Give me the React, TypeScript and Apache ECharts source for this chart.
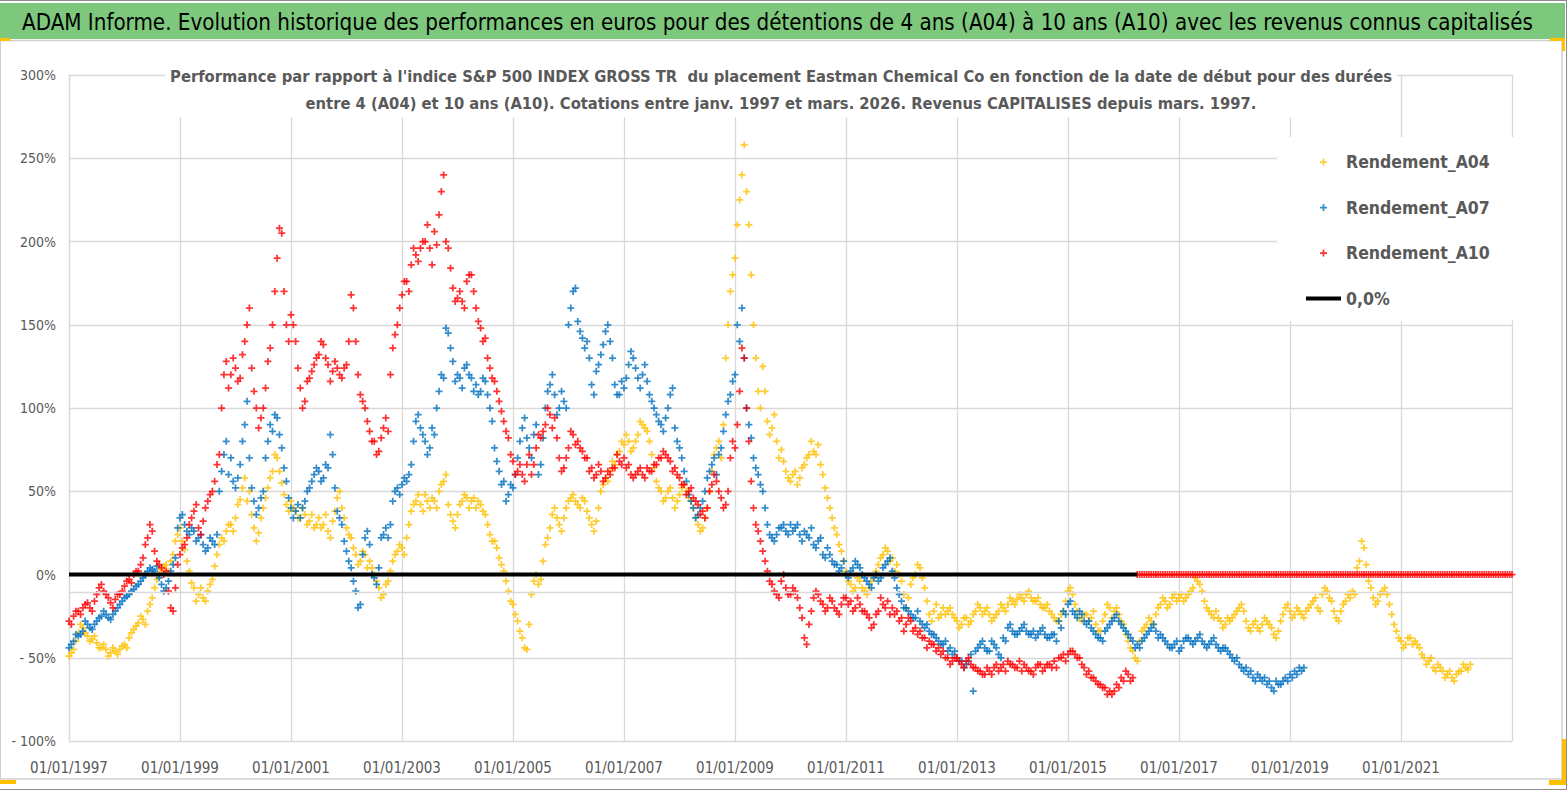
import React, { useEffect, useRef } from "react";
import * as echarts from "echarts";

const START_YEAR = 1997;
const END_YEAR = 2023;
const MONTHS_PER_YEAR = 12;
const X_TICK_YEARS = 2;
const Y_MIN = -100;
const Y_MAX = 300;
const Y_STEP = 50;
const AXIS_CROSS = -10.5;

const TITLE =
  "ADAM Informe. Evolution historique des performances en euros pour des détentions de 4 ans (A04) à 10 ans (A10) avec les revenus connus capitalisés";
const SUBTITLE_1 =
  "Performance par rapport à l'indice S&P 500 INDEX GROSS TR  du placement Eastman Chemical Co en fonction de la date de début pour des durées";
const SUBTITLE_2 =
  "entre 4 (A04) et 10 ans (A10). Cotations entre janv. 1997 et mars. 2026. Revenus CAPITALISES depuis mars. 1997.";

const SERIES_NAMES = ["Rendement_A04", "Rendement_A07", "Rendement_A10", "0,0%"];

// values (%) read at the start of each month, from January 1997
const A04 = [
  -49, -45, -35, -32, -37, -39, -41, -44, -45, -47, -46, -45,
  -42, -38, -33, -29, -27, -22, -14, -3, 3, 6, 8, 20,
  28, 15, 2, -8, -12, -14, -10, -3, 12, 22, 26, 30,
  34, 45, 58, 50, 28, 25, 40, 52, 62, 70, 55, 42,
  44, 38, 34, 36, 32, 28, 34, 30, 26, 32, 46, 40,
  28, 22, 12, 8, 12, 8, 0, -8, -12, -4, 8, 14,
  16, 22, 38, 44, 42, 48, 40, 44, 50, 56, 42, 32,
  36, 44, 46, 44, 40, 42, 36, 24, 20, 10, 2, -10,
  -18, -28, -38, -45, -12, 0, -3, 18, 28, 40, 30, 34,
  44, 48, 42, 46, 38, 30, 32, 50, 58, 62, 66, 74,
  78, 80, 76, 84, 90, 86, 72, 56, 50, 46, 52, 40,
  48, 54, 46, 40, 30, 28, 40, 62, 76, 70, 130, 170,
  190, 225, 258, 210, 150, 110, 125, 92, 88, 80, 75, 62,
  56, 62, 58, 66, 72, 74, 78, 60, 46, 34, 24, 14,
  2, -6, -8, -4, -10, -8, -2, 6, 12, 14, 10, 6,
  -4, -20, -6, 0, 4, -8, -24, -22, -26, -20, -22, -24,
  -28, -30, -26, -28, -22, -20, -22, -24, -26, -22, -20, -18,
  -16, -15, -14, -12, -14, -16, -18, -20, -22, -26, -28, -22,
  -10, -12, -22, -28, -24, -26, -30, -34, -24, -20, -22, -24,
  -30, -40, -46, -52, -34, -30, -28, -24, -18, -16, -18, -12,
  -14, -16, -12, -8, -4, -10, -20, -24, -22, -28, -30, -28,
  -24, -20, -22, -32, -30, -32, -30, -28, -32, -38, -28, -20,
  -22, -24, -22, -26, -20, -16, -20, -12, -10, -16, -26, -22,
  -16, -14, -12, 8, 16, -4, -14, -16, -10, -12, -24, -34,
  -40, -42, -38, -40, -44, -50, -52, -56, -54, -58, -60, -62,
  -60, -58, -56, -54,
];
// values (%) read in the middle of each month
const A04_MID = [
  -47, -40, -30, -35, -40, -37, -44, -42, -49, -44, -48, -43,
  -44, -35, -31, -25, -30, -18, -8, 0, 5, 2, 12, 24,
  20, 8, -5, -16, -8, -16, -6, 5, 18, 20, 30, 26,
  42, 52, 44, 36, 20, 34, 46, 58, 72, 62, 48, 38,
  40, 34, 40, 30, 36, 30, 28, 36, 22, 38, 50, 34,
  24, 16, 6, 14, 4, 4, -4, -14, -6, 2, 12, 18,
  12, 30, 42, 48, 38, 44, 46, 40, 54, 60, 36, 28,
  42, 48, 40, 46, 44, 38, 30, 20, 16, 6, -4, -16,
  -24, -34, -44, -30, -4, -6, 8, 22, 36, 34, 26, 40,
  46, 44, 40, 44, 34, 26, 40, 54, 56, 68, 72, 80,
  84, 74, 80, 92, 88, 80, 64, 52, 44, 50, 46, 44,
  52, 50, 44, 34, 26, 34, 50, 72, 80, 90, 150, 180,
  210, 240, 230, 180, 130, 100, 110, 84, 96, 70, 68, 58,
  60, 54, 64, 70, 80, 72, 66, 52, 40, 28, 18, 8,
  -4, -10, -2, -8, -12, -4, 2, 10, 16, 8, 2, 0,
  -12, -14, -2, 6, -2, -16, -28, -18, -24, -24, -20, -26,
  -32, -26, -30, -24, -18, -24, -20, -28, -24, -18, -22, -14,
  -18, -12, -16, -10, -16, -14, -20, -18, -24, -28, -24, -16,
  -8, -18, -26, -24, -28, -22, -34, -28, -18, -26, -20, -28,
  -36, -44, -50, -40, -32, -26, -30, -20, -14, -20, -14, -16,
  -12, -14, -10, -2, -6, -16, -22, -26, -26, -32, -26, -26,
  -22, -18, -28, -34, -28, -34, -26, -30, -36, -34, -24, -18,
  -26, -20, -24, -22, -18, -14, -22, -8, -14, -22, -28, -18,
  -12, -10, 4, 20, 6, -8, -18, -12, -8, -18, -30, -38,
  -44, -38, -42, -42, -48, -54, -50, -58, -56, -62, -58, -64,
  -58, -54, -57,
];

const A07 = [
  -44, -40, -37, -34, -30, -33, -28, -25, -24, -27, -22, -18,
  -14, -12, -9, -6, -2, 2, 3, 5, -6, -8, 2, 10,
  34, 30, 24, 26, 22, 18, 16, 20, 24, 62, 80, 70,
  52, 66, 90, 70, 44, 40, 50, 80, 86, 94, 76, 56,
  40, 38, 34, 44, 52, 60, 62, 58, 64, 72, 38, 30,
  14, 4, -10, -18, 22, 18, -2, 4, 24, 22, 44, 52,
  54, 56, 66, 92, 88, 80, 76, 84, 110, 118, 145, 128,
  120, 112, 126, 118, 114, 110, 116, 100, 76, 62, 56, 48,
  52, 70, 88, 82, 70, 90, 66, 100, 114, 108, 100, 104,
  150, 170, 152, 142, 140, 114, 122, 132, 146, 140, 114, 108,
  112, 126, 130, 118, 120, 116, 104, 96, 90, 94, 108, 88,
  76, 62, 48, 40, 36, 44, 58, 66, 60, 76, 96, 108,
  120, 140, 130, 90, 70, 60, 50, 30, 22, 24, 28, 26,
  30, 28, 24, 26, 22, 18, 20, 12, 16, 8, 6, 4,
  0, 2, 8, 4, -2, -6, -2, -4, 4, 8, 2, -8,
  -16, -20, -24, -26, -28, -32, -34, -36, -40, -42, -46, -48,
  -50, -52, -54, -48, -46, -42, -44, -46, -42, -48, -38, -32,
  -34, -36, -32, -34, -36, -38, -34, -36, -38, -36, -28, -22,
  -18, -22, -26, -24, -30, -32, -36, -38, -34, -30, -26, -28,
  -32, -36, -40, -42, -40, -36, -32, -34, -36, -40, -44, -42,
  -46, -40, -38, -42, -38, -40, -44, -40, -42, -46, -44, -48,
  -52, -54, -58, -60, -62, -60, -64, -66, -68, -64, -66, -62,
  -60, -58, -56, -56,
];
const A07_MID = [
  -42, -36, -36, -28, -32, -30, -26, -22, -26, -24, -20, -16,
  -13, -10, -7, -4, 0, 4, 2, -2, -10, -4, 6, 28,
  36, 26, 28, 20, 24, 14, 22, 18, 50, 72, 60, 56,
  58, 80, 104, 52, 36, 46, 70, 90, 96, 84, 64, 46,
  34, 42, 40, 50, 56, 64, 56, 66, 84, 52, 34, 20,
  8, -4, -20, 12, 26, 0, -6, 22, 28, 30, 50, 48,
  58, 60, 80, 96, 84, 72, 88, 100, 120, 148, 136, 116,
  118, 124, 120, 110, 108, 118, 108, 92, 68, 54, 44, 54,
  60, 80, 94, 76, 84, 60, 82, 110, 120, 96, 110, 100,
  160, 172, 146, 136, 130, 108, 126, 138, 150, 130, 108, 116,
  118, 134, 124, 112, 126, 108, 100, 92, 86, 100, 112, 80,
  70, 56, 44, 34, 40, 50, 62, 70, 72, 86, 104, 116,
  150, 160, 100, 82, 64, 54, 40, 24, 20, 28, 30, 24,
  26, 30, 20, 24, 28, 16, 22, 10, 12, 6, 2, 8,
  -2, 4, 6, 0, -4, -8, 0, -2, 6, 10, -2, -12,
  -20, -22, -26, -22, -30, -30, -36, -38, -42, -40, -44, -46,
  -52, -56, -52, -70, -44, -40, -46, -40, -44, -50, -40, -30,
  -36, -34, -30, -36, -34, -36, -32, -38, -36, -40, -32, -24,
  -16, -24, -22, -28, -28, -34, -38, -40, -32, -28, -24, -30,
  -34, -38, -44, -44, -38, -34, -30, -38, -38, -42, -44, -40,
  -44, -38, -40, -40, -36, -42, -42, -38, -44, -44, -46, -50,
  -50, -56, -56, -58, -64, -62, -62, -64, -70, -66, -64, -64,
  -62, -60, -58,
];

const A10 = [
  -28, -25, -22, -20, -17, -22, -12, -6, -12, -17, -15, -12,
  -7, -3, 0, 2, 10, 22, 26, 8, 4, 2, -20, -8,
  12, 18, 30, 38, 28, 32, 44, 50, 66, 100, 128, 120,
  124, 118, 140, 160, 110, 88, 100, 128, 150, 190, 205, 150,
  156, 140, 112, 104, 118, 126, 132, 138, 126, 122, 124, 118,
  126, 168, 140, 108, 100, 86, 80, 74, 88, 86, 136, 150,
  168, 176, 186, 192, 196, 200, 196, 206, 216, 240, 196, 172,
  166, 164, 176, 180, 160, 148, 142, 124, 116, 104, 92, 82,
  68, 62, 60, 66, 60, 76, 82, 90, 96, 94, 70, 64,
  76, 84, 80, 74, 70, 64, 60, 62, 58, 60, 64, 68,
  70, 66, 58, 62, 60, 64, 62, 66, 70, 72, 68, 64,
  58, 54, 50, 46, 42, 38, 40, 54, 56, 46, 42, 70,
  76, 110, 130, 80, 40, 26, 14, 2, -6, -12, -4, -8,
  -12, -10, -20, -38, -30, -14, -12, -18, -20, -16, -22, -18,
  -14, -16, -20, -18, -22, -26, -30, -22, -18, -16, -20, -22,
  -26, -30, -28, -32, -34, -38, -40, -42, -44, -46, -50, -52,
  -50, -54, -52, -54, -56, -58, -60, -58, -56, -58, -54, -52,
  -54, -56, -58, -56, -58, -56, -54, -56, -54, -52, -50, -48,
  -48, -46, -50, -54, -60, -62, -64, -66, -68, -70, -70, -68,
  -64, -60, -62,
];
const A10_MID = [
  -30, -22, -24, -18, -20, -16, -8, -10, -14, -20, -12, -10,
  -4, -5, 2, 6, 18, 30, 14, 6, 0, -10, -22, 6,
  16, 22, 34, 42, 24, 40, 48, 56, 72, 120, 112, 130,
  116, 132, 150, 124, 100, 94, 112, 136, 170, 208, 170, 140,
  150, 124, 100, 116, 122, 130, 140, 130, 116, 128, 120, 124,
  140, 160, 120, 104, 92, 80, 72, 82, 94, 120, 144, 160,
  176, 170, 196, 188, 200, 210, 186, 198, 230, 200, 184, 164,
  170, 160, 180, 170, 152, 140, 130, 118, 110, 98, 86, 72,
  60, 66, 56, 72, 66, 84, 86, 100, 88, 82, 62, 70,
  86, 78, 76, 70, 62, 58, 66, 56, 62, 64, 72, 66,
  64, 60, 60, 64, 58, 62, 66, 70, 74, 70, 62, 60,
  54, 48, 52, 44, 36, 34, 50, 60, 50, 40, 50, 80,
  90, 136, 100, 56, 30, 20, 8, -4, -10, -14, 0, -12,
  -8, -14, -26, -42, -22, -10, -16, -22, -14, -20, -24, -14,
  -18, -22, -14, -22, -24, -32, -24, -14, -20, -24, -24, -28,
  -34, -26, -34, -36, -38, -44, -42, -46, -48, -50, -54, -50,
  -52, -56, -50, -56, -58, -60, -56, -60, -54, -56, -58, -54,
  -56, -52, -54, -58, -60, -54, -58, -54, -56, -56, -50, -52,
  -46, -48, -50, -56, -58, -62, -66, -68, -72, -72, -66, -62,
  -58, -64,
];

// A10 values reported as 0 after the last computable start date (April 2016 to end)
const A10_ZERO_TAIL = [
  0, 0, 0, 0, 0, 0, 0, 0, 0, 0, 0, 0, 0, 0, 0, 0, 0, 0, 0, 0,
  0, 0, 0, 0, 0, 0, 0, 0, 0, 0, 0, 0, 0, 0, 0, 0, 0, 0, 0, 0,
  0, 0, 0, 0, 0, 0, 0, 0, 0, 0, 0, 0, 0, 0, 0, 0, 0, 0, 0, 0,
  0, 0, 0, 0, 0, 0, 0, 0, 0, 0, 0, 0, 0, 0, 0, 0, 0, 0, 0, 0,
  0, 0,
];
const A10_ZERO_TAIL_MID = [
  0, 0, 0, 0, 0, 0, 0, 0, 0, 0, 0, 0, 0, 0, 0, 0, 0, 0, 0, 0,
  0, 0, 0, 0, 0, 0, 0, 0, 0, 0, 0, 0, 0, 0, 0, 0, 0, 0, 0, 0,
  0, 0, 0, 0, 0, 0, 0, 0, 0, 0, 0, 0, 0, 0, 0, 0, 0, 0, 0, 0,
  0, 0, 0, 0, 0, 0, 0, 0, 0, 0, 0, 0, 0, 0, 0, 0, 0, 0, 0, 0,
  0,
];

const COLORS = { a04: "#FFC000", a07: "#0070C0", a10: "#FF0000", zero: "#000000" };
const FONT = "'DejaVu Sans Condensed', 'Liberation Sans Narrow', 'Roboto Condensed', Roboto, sans-serif";
const GREY_TEXT = "#595959";
const GRID_COLOR = "#d9d9d9";
const PLUS = "path://M3,0H5V3H8V5H5V8H3V5H0V3H3Z";
const LINE_ICON = "path://M0,0H35V4H0Z";

const toPoints = (vals: number[], offset = 0) =>
  vals.map((v, i) => [(i + offset) / MONTHS_PER_YEAR, v]);

const mergePoints = (start: number[], mid: number[], startOffset = 0) => {
  const a = toPoints(start, startOffset);
  const b = toPoints(mid, startOffset + 0.5);
  const out: number[][] = [];
  for (let i = 0; i < Math.max(a.length, b.length); i++) {
    if (a[i]) out.push(a[i]);
    if (b[i]) out.push(b[i]);
  }
  return out;
};

export default function App() {
  const ref = useRef<HTMLDivElement>(null);

  useEffect(() => {
    const chart = echarts.init(ref.current!, null, { renderer: "svg" });
    const xMax = END_YEAR - START_YEAR;
    const a04Data = mergePoints(A04, A04_MID);
    const a07Data = mergePoints(A07, A07_MID);
    const a10Data = [
      ...mergePoints(A10, A10_MID),
      ...mergePoints(A10_ZERO_TAIL, A10_ZERO_TAIL_MID, A10.length),
    ];
    // the reference line is hidden under the A10 zero band after its last real value
    const zeroLineEnd = A10.length / MONTHS_PER_YEAR;

    const scatterBase = { type: "scatter", symbol: PLUS, symbolSize: 7 };

    const option: any = {
      animation: false,
      backgroundColor: "#ffffff",
      textStyle: { fontFamily: FONT },
      grid: { left: 69, right: 55, top: 75, bottom: 49, containLabel: false },
      xAxis: {
        type: "value",
        min: 0,
        max: xMax,
        interval: X_TICK_YEARS,
        axisLine: { show: false },
        axisTick: { show: false },
        splitLine: { show: true, lineStyle: { color: GRID_COLOR, width: 1.3 } },
        axisLabel: {
          showMaxLabel: false,
          margin: 19,
          color: GREY_TEXT,
          fontSize: 15,
          fontFamily: FONT,
          formatter: (v: number) => `01/01/${START_YEAR + v}`,
        },
      },
      yAxis: {
        type: "value",
        min: Y_MIN,
        max: Y_MAX,
        interval: Y_STEP,
        axisLine: { show: true, lineStyle: { color: GRID_COLOR, width: 1.3 } },
        axisTick: { show: false },
        splitLine: { show: true, lineStyle: { color: GRID_COLOR, width: 1.3 } },
        axisLabel: {
          margin: 13,
          color: GREY_TEXT,
          fontSize: 14,
          fontFamily: FONT,
          formatter: (v: number) => (v < 0 ? `- ${-v}%` : `${v}%`),
        },
      },
      legend: {
        left: 1277,
        top: 137,
        width: 235,
        orient: "vertical",
        backgroundColor: "#ffffff",
        padding: [15, 25, 12, 29],
        itemGap: 25.5,
        itemWidth: 35,
        itemHeight: 7,
        textStyle: { color: GREY_TEXT, fontSize: 17.5, fontWeight: "bold", fontFamily: FONT, lineHeight: 20 },
        data: [
          { name: SERIES_NAMES[0], icon: PLUS },
          { name: SERIES_NAMES[1], icon: PLUS },
          { name: SERIES_NAMES[2], icon: PLUS },
          { name: SERIES_NAMES[3], icon: LINE_ICON, itemStyle: { color: COLORS.zero } },
        ],
        z: 6,
      },
      graphic: [
        { type: "rect", z: -10, silent: true, shape: { x: 0, y: 3, width: 1565, height: 36 }, style: { fill: "#7DC87D" } },
        { type: "rect", z: 5, silent: true, shape: { x: 1277, y: 137, width: 235, height: 184 }, style: { fill: "#ffffff" } },
        { type: "line", z: 10, silent: true, shape: { x1: 0, y1: 0.5, x2: 1567, y2: 0.5 }, style: { stroke: "#8c8c8c", lineWidth: 1 } },
        { type: "line", z: 10, silent: true, shape: { x1: 1566.5, y1: 0, x2: 1566.5, y2: 790 }, style: { stroke: "#8c8c8c", lineWidth: 1 } },
        { type: "line", z: 10, silent: true, shape: { x1: 0, y1: 789.5, x2: 1567, y2: 789.5 }, style: { stroke: "#8c8c8c", lineWidth: 1 } },
        { type: "line", z: 10, silent: true, shape: { x1: 0, y1: 40.5, x2: 1562, y2: 40.5 }, style: { stroke: "#d0d0d0", lineWidth: 1.5 } },
        { type: "line", z: 10, silent: true, shape: { x1: 1562, y1: 41, x2: 1562, y2: 779 }, style: { stroke: "#d0d0d0", lineWidth: 1.5 } },
        { type: "line", z: 10, silent: true, shape: { x1: 0, y1: 779, x2: 1562, y2: 779 }, style: { stroke: "#d0d0d0", lineWidth: 1.5 } },
        { type: "line", z: 10, silent: true, shape: { x1: 0.5, y1: 41, x2: 0.5, y2: 779 }, style: { stroke: "#d0d0d0", lineWidth: 1 } },
        { type: "rect", z: 11, silent: true, shape: { x: 0, y: 38, width: 10, height: 3 }, style: { fill: "#FFC000" } },
        { type: "rect", z: 11, silent: true, shape: { x: 1550, y: 38, width: 15, height: 3 }, style: { fill: "#FFC000" } },
        { type: "rect", z: 11, silent: true, shape: { x: 1562, y: 38, width: 3, height: 13 }, style: { fill: "#FFC000" } },
        { type: "rect", z: 11, silent: true, shape: { x: 0, y: 780, width: 16, height: 4 }, style: { fill: "#FFC000" } },
        { type: "rect", z: 11, silent: true, shape: { x: 1562, y: 739, width: 4, height: 46 }, style: { fill: "#FFC000" } },
        { type: "rect", z: 11, silent: true, shape: { x: 1549, y: 780, width: 17, height: 5 }, style: { fill: "#FFC000" } },
        {
          type: "text",
          z: 12,
          silent: true,
          x: 22,
          y: 22,
          style: { text: TITLE, fill: "#000000", fontSize: 22.2, fontFamily: FONT, align: "left", verticalAlign: "middle" },
        },
        { type: "rect", z: 5, silent: true, shape: { x: 165, y: 60, width: 1232, height: 57 }, style: { fill: "#ffffff" } },
        {
          type: "text",
          z: 12,
          silent: true,
          x: 781,
          y: 76,
          style: { text: SUBTITLE_1, fill: GREY_TEXT, fontSize: 16.4, fontWeight: "bold", fontFamily: FONT, align: "center", verticalAlign: "middle" },
        },
        {
          type: "text",
          z: 12,
          silent: true,
          x: 781,
          y: 103,
          style: { text: SUBTITLE_2, fill: GREY_TEXT, fontSize: 16.4, fontWeight: "bold", fontFamily: FONT, align: "center", verticalAlign: "middle" },
        },
      ],
      series: [
        {
          ...scatterBase,
          name: SERIES_NAMES[0],
          data: a04Data,
          itemStyle: { color: COLORS.a04 },
          markLine: {
            silent: true,
            symbol: "none",
            label: { show: false },
            lineStyle: { color: GRID_COLOR, type: "solid", width: 1.3 },
            data: [{ yAxis: AXIS_CROSS }],
          },
        },
        {
          ...scatterBase,
          name: SERIES_NAMES[1],
          data: a07Data,
          itemStyle: { color: COLORS.a07 },
        },
        {
          name: SERIES_NAMES[3],
          type: "line",
          data: [
            [0, 0],
            [zeroLineEnd, 0],
          ],
          symbol: "none",
          showSymbol: false,
          lineStyle: { color: COLORS.zero, width: 4 },
          itemStyle: { color: COLORS.zero },
        },
        {
          ...scatterBase,
          name: SERIES_NAMES[2],
          data: a10Data,
          itemStyle: { color: COLORS.a10 },
        },
      ],
    };

    chart.setOption(option);
    return () => chart.dispose();
  }, []);

  return (
    <div
      ref={ref}
      style={{ position: "fixed", left: 0, top: 0, width: "1567px", height: "790px" }}
    />
  );
}
